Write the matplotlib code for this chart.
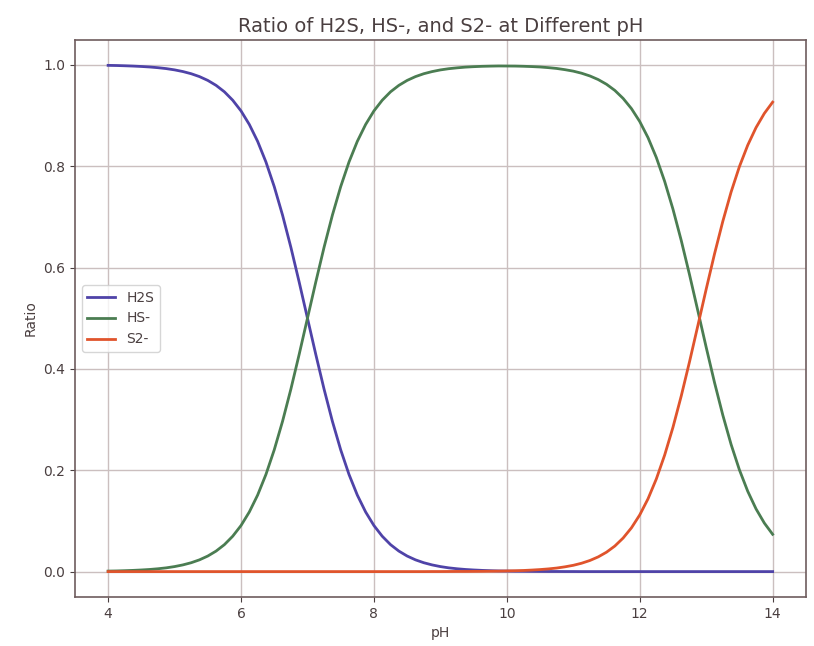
import matplotlib
matplotlib.use("Agg")
import matplotlib.pyplot as plt

ph = [4.0, 4.125, 4.25, 4.375, 4.5, 4.625, 4.75, 4.875, 5.0, 5.125, 5.25, 5.375,
      5.5, 5.625, 5.75, 5.875, 6.0, 6.125, 6.25, 6.375, 6.5, 6.625, 6.75, 6.875,
      7.0, 7.125, 7.25, 7.375, 7.5, 7.625, 7.75, 7.875, 8.0, 8.125, 8.25, 8.375,
      8.5, 8.625, 8.75, 8.875, 9.0, 9.125, 9.25, 9.375, 9.5, 9.625, 9.75, 9.875,
      10.0, 10.125, 10.25, 10.375, 10.5, 10.625, 10.75, 10.875, 11.0, 11.125,
      11.25, 11.375, 11.5, 11.625, 11.75, 11.875, 12.0, 12.125, 12.25, 12.375,
      12.5, 12.625, 12.75, 12.875, 13.0, 13.125, 13.25, 13.375, 13.5, 13.625,
      13.75, 13.875, 14.0]

h2s = [0.999, 0.9987, 0.9982, 0.9976, 0.9968, 0.9958, 0.9944, 0.9926, 0.9901,
       0.9868, 0.9825, 0.9768, 0.9693, 0.9595, 0.9468, 0.9302, 0.9091, 0.8823,
       0.849, 0.8083, 0.7597, 0.7034, 0.6401, 0.5714, 0.5, 0.4286, 0.3599,
       0.2966, 0.2403, 0.1917, 0.151, 0.1177, 0.0909, 0.0698, 0.0532, 0.0405,
       0.0307, 0.0232, 0.0175, 0.0132, 0.0099, 0.0074, 0.0056, 0.0042, 0.0032,
       0.0024, 0.0018, 0.0013, 0.001, 0.0007, 0.0006, 0.0004, 0.0003, 0.0002,
       0.0002, 0.0001, 0.0001, 0.0, 0.0, 0.0, 0.0, 0.0, 0.0, 0.0, 0.0, 0.0,
       0.0, 0.0, 0.0, 0.0, 0.0, 0.0, 0.0, 0.0, 0.0, 0.0, 0.0, 0.0, 0.0, 0.0, 0.0]

hs = [0.001, 0.0013, 0.0018, 0.0024, 0.0032, 0.0042, 0.0056, 0.0074, 0.0099,
      0.0132, 0.0175, 0.0232, 0.0307, 0.0405, 0.0532, 0.0698, 0.0909, 0.1177,
      0.151, 0.1917, 0.2403, 0.2966, 0.3599, 0.4286, 0.5, 0.5714, 0.6401,
      0.7034, 0.7597, 0.8083, 0.849, 0.8823, 0.9091, 0.9302, 0.9468, 0.9595,
      0.9693, 0.9768, 0.9825, 0.9867, 0.99, 0.9924, 0.9941, 0.9955, 0.9964,
      0.9971, 0.9975, 0.9978, 0.9977, 0.9976, 0.9972, 0.9966, 0.9958, 0.9945,
      0.9929, 0.9905, 0.9876, 0.9835, 0.9781, 0.971, 0.9617, 0.9496, 0.9338,
      0.9137, 0.8882, 0.8563, 0.8171, 0.7701, 0.7153, 0.6533, 0.5855, 0.5144,
      0.4427, 0.3733, 0.3089, 0.2509, 0.2008, 0.1586, 0.1238, 0.0958, 0.0736]

s2 = [0.0, 0.0, 0.0, 0.0, 0.0, 0.0, 0.0, 0.0, 0.0, 0.0, 0.0, 0.0, 0.0, 0.0,
      0.0, 0.0, 0.0, 0.0, 0.0, 0.0, 0.0, 0.0, 0.0, 0.0, 0.0, 0.0, 0.0, 0.0,
      0.0, 0.0, 0.0, 0.0, 0.0, 0.0, 0.0, 0.0, 0.0, 0.0, 0.0, 0.0001, 0.0001,
      0.0002, 0.0003, 0.0003, 0.0004, 0.0005, 0.0007, 0.0009, 0.0013, 0.0017,
      0.0022, 0.003, 0.004, 0.0053, 0.007, 0.0094, 0.0124, 0.0165, 0.0219,
      0.029, 0.0383, 0.0504, 0.0662, 0.0863, 0.1118, 0.1437, 0.1829, 0.2299,
      0.2847, 0.3467, 0.4145, 0.4856, 0.5573, 0.6267, 0.6911, 0.7491, 0.7992,
      0.8414, 0.8762, 0.9042, 0.9264]

labels = ["H2S", "HS-", "S2-"]
colors = ["#4f43a8", "#4b7d52", "#e0542c"]

txt = "#4a3f40"
plt.rcParams.update({"text.color": txt, "axes.labelcolor": txt,
                     "xtick.color": txt, "ytick.color": txt})

fig = plt.figure(figsize=(8.14, 6.46), dpi=100)
ax = fig.add_axes([0.092, 0.076, 0.898, 0.862])

for y, lab, c in zip([h2s, hs, s2], labels, colors):
    ax.plot(ph, y, color=c, lw=2, label=lab)

ax.set_title("Ratio of H2S, HS-, and S2- at Different pH", fontsize=14)
ax.set_xlabel("pH")
ax.set_ylabel("Ratio")
ax.set_xticks([4, 6, 8, 10, 12, 14])
ax.grid(True, color="#cbbfbf", lw=1)
for s in ax.spines.values():
    s.set_color("#6e5c5e")
    s.set_linewidth(1.2)
ax.legend(loc="center left", frameon=True)

fig.savefig("out.png", dpi=100)
